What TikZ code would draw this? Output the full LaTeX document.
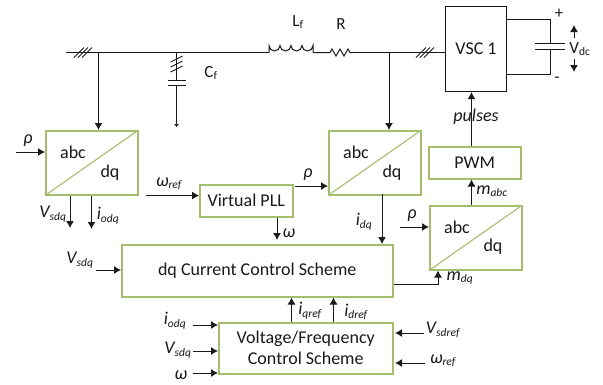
\documentclass[tikz,border=0pt]{standalone}
\usepackage{fontspec}
\setmainfont{Carlito}
\usetikzlibrary{arrows.meta,calc}
\definecolor{boxgreen}{HTML}{A3BF6E}
\definecolor{ink}{HTML}{1A1A1A}
\tikzset{
  x=1pt,y=-1pt,
  block/.style={draw=boxgreen,line width=1.5pt,fill=white,inner sep=0pt,align=center,text=ink,font=\fontsize{18}{21}\selectfont,anchor=north west},
  plainbox/.style={draw=ink,line width=1.1pt,fill=white,inner sep=0pt,align=center,text=ink,font=\fontsize{18}{21}\selectfont,anchor=north west},
  conv/.style={block,minimum width=92pt,minimum height=64pt},
  wire/.style={draw=ink,line width=1pt},
  sig/.style={wire,-{Latex[length=7pt,width=8pt]}},
  lbl/.style={text=ink,inner sep=0pt,font=\fontsize{18}{20}\selectfont\itshape},
  up/.style={text=ink,inner sep=0pt,font=\fontsize{17}{20}\selectfont},
  txt/.style={text=ink,inner sep=0pt,font=\fontsize{18}{20}\selectfont},
  hash/.style={wire,line width=0.9pt},
}
\newcommand{\sbs}[1]{\textsubscript{\fontsize{11.5}{12}\selectfont #1}}
\newcommand{\hashmarks}[1]{\foreach \d in {-4,0,4}{\draw[hash] ($(#1)+(\d-5,5)$) -- ($(#1)+(\d+5,-5)$);}}
\begin{document}
\begin{tikzpicture}
\useasboundingbox[fill=white] (0,0) rectangle (603,384);
% blocks
\node[plainbox,minimum width=61pt,minimum height=85.5pt] (vsc) at (445,5.5) {VSC 1};
\node[conv] (c1) at (45,130) {};
\node[conv] (c2) at (328,130) {};
\node[conv] (c3) at (429,205) {};
\node[block,minimum width=92pt,minimum height=32pt] (pwm) at (428,146) {PWM};
\node[block,minimum width=93pt,minimum height=32pt] (pll) at (199,184) {Virtual PLL};
\node[block,minimum width=271pt,minimum height=52pt] (cc) at (121,244) {dq Current Control Scheme};
\node[block,minimum width=174pt,minimum height=51pt] (vf) at (218,322) {Voltage/Frequency\\Control Scheme};
\foreach \c in {c1,c2,c3}{\draw[boxgreen,line width=1.1pt] (\c.south west) -- (\c.north east);}
% abc / dq
\node[txt] (a1) at (73,152) {abc}; \node[txt] (d1) at (110,173) {dq};
\node[txt] (a2) at (356,152) {abc}; \node[txt] (d2) at (392,173) {dq};
\node[txt] (a3) at (457,227) {abc}; \node[txt] (d3) at (493,247) {dq};
% AC line
\coordinate (lstart) at (66,52.5);
\coordinate (j1) at (98.5,52.5);
\coordinate (j2) at (176.5,52.5);
\coordinate (l1) at (269,52.5);
\coordinate (l2) at (313,52.5);
\coordinate (r1) at (330,52.5);
\coordinate (r2) at (352,52.5);
\coordinate (j3) at (389,52.5);
\draw[wire] (lstart) -- (l1);
\draw[wire] (l1) -- ++(0,-7) arc (180:0:5.5) arc (180:0:5.5) arc (180:0:5.5) arc (180:0:5.5) -- (l2);
\draw[wire] (l2) -- (r1) -- ++(2,-3.5) -- ++(4,7) -- ++(4,-7) -- ++(4,7) -- ++(4,-7) -- ++(2,3.5) -- (r2);
\draw[wire] (r2) -- (r2 -| vsc.west);
\coordinate (h1) at (83,52.5); \hashmarks{h1}
\coordinate (h2) at (425,52.5); \hashmarks{h2}
% filter cap
\coordinate (cp1) at (176.5,80);
\coordinate (cp2) at (176.5,85);
\coordinate (cend) at (176.5,127);
\draw[wire] (j2) -- (cp1);
\draw[wire] ($(cp1)+(-9,0)$) -- ($(cp1)+(9,0)$);
\draw[wire] ($(cp2)+(-9,0)$) -- ($(cp2)+(9,0)$);
\draw[wire,-{Latex[length=3pt,width=5pt]}] (cp2) -- (cend);
\foreach \d in {59,64,69}{\draw[hash] (170.5,\d+3) -- (182.5,\d-3);}
% drops
\draw[sig] (j1) -- (j1 |- c1.north);
\draw[sig] (j3) -- (j3 |- c2.north);
% dc side
\coordinate (dc1) at (550,19.5);
\coordinate (dc2) at (550,74);
\coordinate (dp1) at (550,43);
\coordinate (dp2) at (550,49.5);
\draw[wire] (vsc.east |- dc1) -- (dc1) -- (dp1);
\draw[wire] (dp2) -- (dc2) -- (vsc.east |- dc2);
\draw[wire] ($(dp1)+(-15,0)$) -- ($(dp1)+(15,0)$);
\draw[wire] ($(dp2)+(-15,0)$) -- ($(dp2)+(15,0)$);
\coordinate (vu) at (574,25);
\coordinate (vd) at (574,72);
\draw[sig] (574,38) -- (vu);
\draw[sig] (574,59) -- (vd);
% signals
\coordinate (rho1) at (16,152); \draw[sig] (rho1) -- (rho1 -| c1.west);
\coordinate (vs1) at (70,228); \draw[sig] (vs1 |- c1.south) -- (vs1);
\coordinate (io1) at (91.5,229); \draw[sig] (io1 |- c1.south) -- (io1);
\coordinate (wr1) at (146,195.5); \draw[sig] (wr1) -- (wr1 -| pll.west);
\coordinate (om1) at (277,240); \draw[sig] (om1 |- pll.south) -- (om1);
\coordinate (rho2) at (295,186); \draw[sig] (rho2) -- (rho2 -| c2.west);
\coordinate (idq) at (382,194); \draw[sig] (idq) -- (idq |- cc.north);
\coordinate (puls) at (471.5,146); \draw[sig] (puls) -- (puls |- vsc.south);
\coordinate (mabc) at (471.5,205); \draw[sig] (mabc) -- (mabc |- pwm.south);
\coordinate (rho3) at (400,227); \draw[sig] (rho3) -- (rho3 -| c3.west);
\coordinate (mdq) at (438,284); \draw[sig] (mdq -| cc.east) -- (mdq) -- (mdq |- c3.south);
\coordinate (vs2) at (96,270); \draw[sig] (vs2) -- (vs2 -| cc.west);
\coordinate (iq) at (291.5,322); \draw[sig] (iq) -- (iq |- cc.south);
\coordinate (id) at (333.5,322); \draw[sig] (id) -- (id |- cc.south);
\coordinate (in1) at (193,325); \draw[sig] (in1) -- (in1 -| vf.west);
\coordinate (in2) at (193,351); \draw[sig] (in2) -- (in2 -| vf.west);
\coordinate (in3) at (193,373); \draw[sig] (in3) -- (in3 -| vf.west);
\coordinate (in4) at (424,333); \draw[sig] (in4) -- (395,333);
\coordinate (in5) at (425,363); \draw[sig] (in5) -- (395,363);
% labels
\node[up] (tL) at (298,22) {L\sbs{f}};
\node[up] (tR) at (341,24) {R};
\node[up] (tC) at (211,73) {C\sbs{f}};
\node[up] (tV) at (580,49) {V\sbs{dc}};
\node[up] (tp) at (559,14) {+};
\node[up] (tm) at (557,80) {-};
\node[lbl] (t1) at (28,141) {ρ};
\node[lbl] (t2) at (53,214) {V\sbs{sdq}};
\node[lbl] (t3) at (108,216) {i\sbs{odq}};
\node[lbl] (t4) at (169,184) {ω\sbs{ref}};
\node[lbl] (t5) at (289,233) {ω};
\node[lbl] (t6) at (308,175) {ρ};
\node[lbl] (t7) at (364,222) {i\sbs{dq}};
\node[lbl] (t8) at (476,117) {pulses};
\node[lbl] (t9) at (492,191) {m\sbs{abc}};
\node[lbl] (t10) at (412,216) {ρ};
\node[lbl] (t11) at (460,278) {m\sbs{dq}};
\node[lbl] (t12) at (80,260) {V\sbs{sdq}};
\node[lbl] (t13) at (310,311) {i\sbs{qref}};
\node[lbl] (t14) at (356,312) {i\sbs{dref}};
\node[lbl] (t15) at (175,321) {i\sbs{odq}};
\node[lbl] (t16) at (178,350) {V\sbs{sdq}};
\node[lbl] (t17) at (181,375) {ω};
\node[lbl] (t18) at (443,330) {V\sbs{sdref}};
\node[lbl] (t19) at (443,361) {ω\sbs{ref}};
\end{tikzpicture}
\end{document}
